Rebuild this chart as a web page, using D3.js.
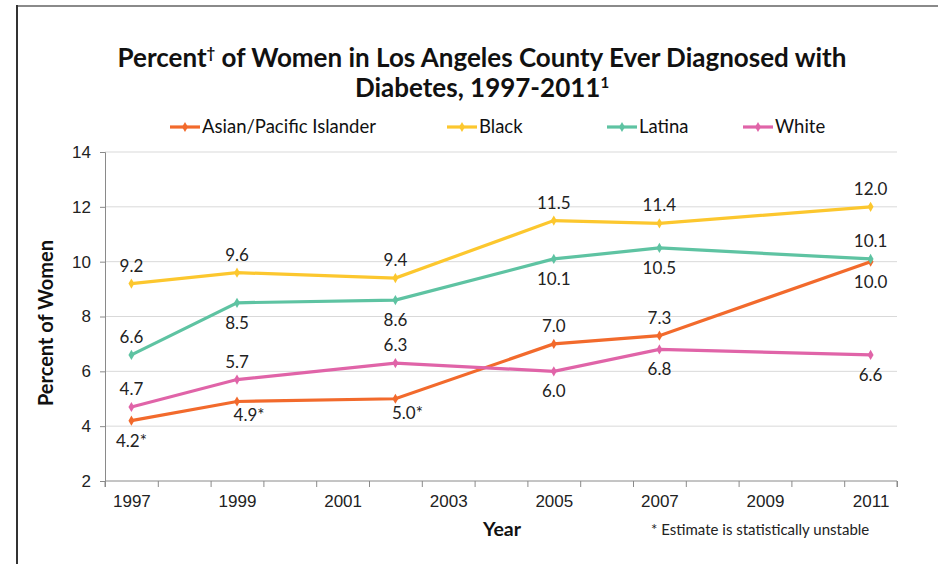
<!DOCTYPE html>
<html>
<head>
<meta charset="utf-8">
<script src="https://cdn.jsdelivr.net/npm/d3@7"></script>
<style>
  body { margin: 0; background: #fff; }
  svg { font-family: Lato, "Open Sans", sans-serif; }
</style>
</head>
<body>
<div id="graf"></div>
<script>
// datos
const years = [1997, 1999, 2002, 2005, 2007, 2011]
const asian = [4.2, 4.9, 5.0, 7.0, 7.3, 10.0]
const black = [9.2, 9.6, 9.4, 11.5, 11.4, 12.0]
const latina = [6.6, 8.5, 8.6, 10.1, 10.5, 10.1]
const white = [4.7, 5.7, 6.3, 6.0, 6.8, 6.6]
// estimaciones inestables (llevan *)
const unstable = [true, true, true, false, false, false]
const xLabels = [1997, 1999, 2001, 2003, 2005, 2007, 2009, 2011]
const yTicks = [2, 4, 6, 8, 10, 12, 14]

// posicion de las etiquetas: 1 = arriba, -1 = abajo
const series = [
  { name: "Asian/Pacific Islander", values: asian, color: "#f26a2c", pos: [-1, -1, -1, 1, 1, -1], star: true },
  { name: "Black", values: black, color: "#fcc72e", pos: [1, 1, 1, 1, 1, 1] },
  { name: "Latina", values: latina, color: "#5ec3a2", pos: [1, -1, -1, -1, -1, 1] },
  { name: "White", values: white, color: "#e064a8", pos: [1, 1, 1, -1, -1, -1] },
]

const anchoTotal = 938
const altoTotal = 564
const margins = { top: 152, right: 41, bottom: 83, left: 105 }
const ancho = anchoTotal - margins.left - margins.right
const alto = altoTotal - margins.top - margins.bottom

const svg = d3.select("#graf")
  .append("svg")
  .attr("width", anchoTotal)
  .attr("height", altoTotal)

// marco
svg.append("line").attr("x1", 17).attr("x2", anchoTotal).attr("y1", 6).attr("y2", 6)
  .attr("stroke", "#8a8a8a").attr("stroke-width", 2)
svg.append("line").attr("x1", 17).attr("x2", 17).attr("y1", 5).attr("y2", altoTotal)
  .attr("stroke", "#333").attr("stroke-width", 2)

const g = svg.append("g")
  .attr("transform", `translate(${margins.left}, ${margins.top})`)

// Escaladores
const x = d3.scaleLinear().domain([1996.5, 2011.5]).range([0, ancho])
const y = d3.scaleLinear().domain([2, 14]).range([alto, 0])

// rejilla
g.append("g")
  .selectAll("line")
  .data(yTicks.slice(1))
  .enter()
  .append("line")
  .attr("x1", 0).attr("x2", ancho)
  .attr("y1", d => y(d)).attr("y2", d => y(d))
  .attr("stroke", "#d9d9d9").attr("stroke-width", 1)

// Ejes
const yAxis = d3.axisLeft(y).tickValues(yTicks).tickSize(5).tickPadding(9)
const yAxisGroup = g.append("g").call(yAxis)
yAxisGroup.select(".domain").attr("stroke", "#8a8a8a")
yAxisGroup.selectAll(".tick line").attr("stroke", "#8a8a8a")
yAxisGroup.selectAll(".tick text").style("font-size", "17px").attr("fill", "#222")

const bordes = d3.range(1996.5, 2012, 1)
const xAxis = d3.axisBottom(x).tickValues(bordes).tickSize(6).tickFormat("")
const xAxisGroup = g.append("g")
  .attr("transform", `translate(0, ${alto})`)
  .call(xAxis)
xAxisGroup.select(".domain").attr("stroke", "#8a8a8a").attr("d", `M0,6V0H${ancho}V6`)
xAxisGroup.selectAll(".tick line").attr("stroke", "#8a8a8a")

const xLabAxis = d3.axisBottom(x).tickValues(xLabels).tickSize(0).tickPadding(14).tickFormat(d3.format("d"))
const xLabGroup = g.append("g")
  .attr("transform", `translate(0, ${alto})`)
  .call(xLabAxis)
xLabGroup.select(".domain").remove()
xLabGroup.selectAll(".tick text").style("font-size", "17px").attr("fill", "#222")

// lineas
const linea = d3.line()
  .x((d, i) => x(years[i]))
  .y(d => y(d))

series.forEach(s => {
  g.append("path")
    .datum(s.values)
    .attr("d", linea)
    .attr("fill", "none")
    .attr("stroke", s.color)
    .attr("stroke-width", 3.2)

  g.selectAll(null)
    .data(s.values)
    .enter()
    .append("path")
    .attr("d", d3.symbol(d3.symbolDiamond, 30))
    .attr("transform", (d, i) => `translate(${x(years[i])}, ${y(d)})`)
    .attr("fill", s.color)

  g.selectAll(null)
    .data(s.values)
    .enter()
    .append("text")
    .attr("x", (d, i) => x(years[i]) + (s.star && unstable[i] && i > 0 ? 12 : 0))
    .attr("y", (d, i) => y(d) + (s.pos[i] > 0 ? -12 : (s.star && unstable[i] && i > 0 ? 20 : 26)))
    .attr("text-anchor", "middle")
    .style("font-size", "17px")
    .attr("fill", "#222")
    .text((d, i) => d.toFixed(1) + (s.star && unstable[i] ? "*" : ""))
})

// Titulo
const titulo = svg.append("text")
  .attr("text-anchor", "middle")
  .style("font-size", "26px")
  .style("font-weight", "bold")
  .attr("fill", "#111")
const t1 = titulo.append("tspan").attr("x", 482).attr("y", 67)
t1.append("tspan").text("Percent")
t1.append("tspan").text("†").style("font-size", "15px").attr("dy", -9)
t1.append("tspan").text(" of Women in Los Angeles County Ever Diagnosed with").attr("dy", 9)
const t2 = titulo.append("tspan").attr("x", 482).attr("y", 97)
t2.append("tspan").text("Diabetes, 1997-2011")
t2.append("tspan").text("1").style("font-size", "15px").attr("dy", -9)

// Leyenda
const legX = [170, 447, 607, 743]
const leg = svg.append("g")
series.forEach((s, i) => {
  const it = leg.append("g").attr("transform", `translate(${legX[i]}, 127)`)
  it.append("line").attr("x1", 0).attr("x2", 30).attr("stroke", s.color).attr("stroke-width", 3.2)
  it.append("path").attr("d", d3.symbol(d3.symbolDiamond, 30)).attr("transform", "translate(15,0)").attr("fill", s.color)
  it.append("text").attr("x", 32).attr("y", 6).style("font-size", "18.5px").attr("fill", "#111").text(s.name)
})

// titulos de ejes
svg.append("text")
  .attr("transform", "translate(53, 323) rotate(-90)")
  .attr("text-anchor", "middle")
  .style("font-size", "20px")
  .style("font-weight", "bold")
  .attr("fill", "#111")
  .text("Percent of Women")

svg.append("text")
  .attr("x", 502).attr("y", 536)
  .attr("text-anchor", "middle")
  .style("font-size", "19.5px")
  .style("font-weight", "bold")
  .attr("fill", "#111")
  .text("Year")

svg.append("text")
  .attr("x", 651).attr("y", 535)
  .style("font-size", "15px")
  .attr("fill", "#222")
  .text("* Estimate is statistically unstable")
</script>
</body>
</html>
